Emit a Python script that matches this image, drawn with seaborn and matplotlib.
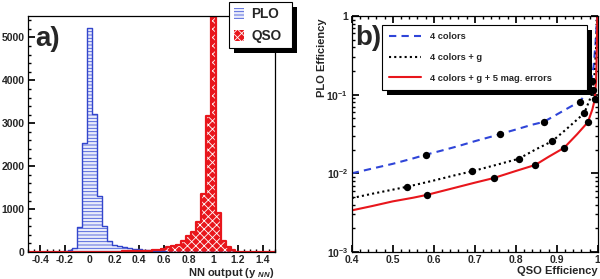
import numpy as np
import pandas as pd
import matplotlib
matplotlib.use("Agg")
import matplotlib.pyplot as plt
import seaborn as sns
from matplotlib.patches import Patch, Rectangle
from matplotlib.lines import Line2D
from matplotlib.transforms import IdentityTransform
from matplotlib.ticker import MultipleLocator, LogLocator, NullFormatter

# ---------------- data: panel a) histogram ----------------
bin_edges = [round(-0.5 + 0.04 * i, 4) for i in range(51)]
bin_centers = [round(e + 0.02, 4) for e in bin_edges[:-1]]

plo_counts = [0, 0, 0, 0, 0, 0, 0, 15, 40, 90,
              572, 2530, 5210, 3220, 1314, 595, 263, 170, 130, 108,
              90, 75, 60, 45, 35, 25, 18, 12, 8, 5,
              3, 0, 0, 0, 0, 0, 0, 0, 0, 0,
              0, 0, 0, 0, 0, 0, 0, 0, 0, 0]
qso_counts = [0, 0, 0, 0, 0, 0, 0, 0, 0, 0,
              0, 0, 0, 0, 3, 5, 6, 8, 10, 12,
              15, 18, 22, 26, 32, 40, 55, 80, 115, 130,
              170, 250, 380, 465, 710, 1345, 3180, 6000, 905, 250,
              115, 40, 10, 0, 0, 0, 0, 0, 0, 0]
hist_labels = ["PLO", "QSO"]
hist_xticks = [-0.4, -0.2, 0, 0.2, 0.4, 0.6, 0.8, 1.0, 1.2, 1.4]
hist_xticklabels = ["-0.4", "-0.2", "0", "0.2", "0.4", "0.6", "0.8", "1", "1.2", "1.4"]
hist_yticks = [0, 1000, 2000, 3000, 4000, 5000]

# ---------------- data: panel b) efficiency curves ----------------
c4_x = [0.40, 0.45, 0.50, 0.55, 0.58, 0.62, 0.66, 0.70, 0.74, 0.761, 0.80, 0.84,
        0.868, 0.90, 0.93, 0.956, 0.97, 0.98, 0.985, 0.99, 0.994, 0.997, 0.999]
c4_y = [0.0100, 0.0115, 0.0132, 0.0155, 0.0172, 0.0195, 0.0222, 0.0256, 0.0292,
        0.0315, 0.0360, 0.0415, 0.0450, 0.0559, 0.0686, 0.0817, 0.100, 0.126,
        0.160, 0.23, 0.40, 0.70, 1.0]
c4g_x = [0.40, 0.45, 0.50, 0.535, 0.60, 0.65, 0.693, 0.75, 0.807, 0.85, 0.889,
         0.92, 0.95, 0.967, 0.98, 0.988, 0.993, 0.997, 0.999]
c4g_y = [0.00484, 0.0055, 0.0062, 0.00675, 0.0081, 0.0094, 0.0106, 0.0127, 0.0153,
         0.0203, 0.0256, 0.0351, 0.0483, 0.058, 0.085, 0.113, 0.2, 0.5, 1.0]
c4ge_x = [0.40, 0.45, 0.50, 0.55, 0.584, 0.65, 0.70, 0.746, 0.80, 0.848, 0.88,
          0.918, 0.95, 0.976, 0.987, 0.993, 0.996, 0.998, 0.999]
c4ge_y = [0.00338, 0.00384, 0.0044, 0.0049, 0.00533, 0.00652, 0.0076, 0.0087,
          0.0107, 0.0128, 0.0162, 0.0211, 0.0315, 0.0447, 0.065, 0.0875, 0.15,
          0.4, 1.0]
mk4_x = [0.580, 0.761, 0.868, 0.956, 0.985]
mk4_y = [0.0172, 0.0315, 0.045, 0.0817, 0.15]
mk4g_x = [0.535, 0.693, 0.807, 0.889, 0.967, 0.988]
mk4g_y = [0.00675, 0.0106, 0.0153, 0.0256, 0.058, 0.113]
mk4ge_x = [0.584, 0.746, 0.848, 0.918, 0.976, 0.993]
mk4ge_y = [0.00533, 0.0087, 0.0128, 0.0211, 0.0447, 0.0875]
curve_labels = ["4 colors", "4 colors + g", "4 colors + g + 5 mag. errors"]
eff_xticks = [0.4, 0.5, 0.6, 0.7, 0.8, 0.9, 1.0]
eff_xticklabels = ["0.4", "0.5", "0.6", "0.7", "0.8", "0.9", "1"]
eff_yticks = [1e-3, 1e-2, 1e-1, 1]
eff_yticklabels = ["$10^{-3}$", "$10^{-2}$", "$10^{-1}$", "1"]

hist_df = pd.DataFrame({"center": bin_centers, "plo": plo_counts, "qso": qso_counts})

# ---------------- style ----------------
sns.set_theme(style="ticks")
plt.rcParams.update({
    "font.family": ["Liberation Sans", "DejaVu Sans"],
    "font.weight": "bold",
    "axes.labelweight": "bold",
    "mathtext.fontset": "custom",
    "mathtext.rm": "Liberation Sans:bold",
    "mathtext.it": "Liberation Sans:italic:bold",
    "mathtext.bf": "Liberation Sans:bold",
    "hatch.linewidth": 0.6,
    "axes.linewidth": 0.9,
    "axes.edgecolor": "black",
})

BLUE_FILL = "#e9ecfa"
BLUE_HATCH = "#4257da"
BLUE_LINE = "#3346cc"
RED = "#e8161c"
CURVE_BLUE = "#2f45d8"

fig = plt.figure(figsize=(6, 2.79), dpi=100)
ax1 = fig.add_axes([28 / 600, 27 / 279, 247 / 600, 236 / 279])
ax2 = fig.add_axes([351.7 / 600, 27 / 279, 246 / 600, 236 / 279])

# ---------------- panel a ----------------
sns.histplot(data=hist_df, x="center", weights="plo", bins=bin_edges, element="bars",
             fill=True, facecolor=BLUE_FILL, edgecolor=BLUE_HATCH, hatch="-----",
             linewidth=0, alpha=1, ax=ax1)
sns.histplot(data=hist_df, x="center", weights="plo", bins=bin_edges, element="step",
             fill=False, color=BLUE_LINE, linewidth=1.0, ax=ax1)
sns.histplot(data=hist_df, x="center", weights="qso", bins=bin_edges, element="bars",
             fill=True, facecolor=RED, edgecolor="white", hatch="xxxx",
             linewidth=0, alpha=1, ax=ax1)
sns.histplot(data=hist_df, x="center", weights="qso", bins=bin_edges, element="step",
             fill=False, color=RED, linewidth=1.6, ax=ax1)

ax1.set_xlim(-0.5, 1.5)
ax1.set_ylim(0, 5500)
ax1.set_xticks(hist_xticks)
ax1.set_xticklabels(hist_xticklabels)
ax1.set_yticks(hist_yticks)
ax1.xaxis.set_minor_locator(MultipleLocator(0.05))
ax1.yaxis.set_minor_locator(MultipleLocator(200))
ax1.tick_params(which="both", direction="in", top=False, right=False,
                labelsize=7.5, pad=2.5, color="black")
ax1.tick_params(which="major", length=5)
ax1.tick_params(which="minor", length=2.5)
ax1.set_ylabel("")
ax1.set_xlabel(r"NN output (y $_{NN}$)", loc="right", fontsize=8, labelpad=0.5)
for s in ax1.spines.values():
    s.set_visible(True)

leg1 = ax1.legend(
    handles=[Patch(facecolor=BLUE_FILL, edgecolor=BLUE_HATCH, hatch="-----", linewidth=0),
             Patch(facecolor=RED, edgecolor="white", hatch="xxxx", linewidth=0)],
    labels=hist_labels, loc="upper left",
    bbox_to_anchor=(229 / 600, 1 - 45 / 279, 63 / 600, 43 / 279),
    bbox_transform=fig.transFigure, mode="expand", borderaxespad=0,
    fontsize=9.8, frameon=True, fancybox=False, framealpha=1, edgecolor="black",
    handlelength=0.7, handleheight=0.85, handletextpad=0.55, labelspacing=0.55,
    borderpad=0.4)
leg1.get_frame().set_linewidth(0.8)
for t in leg1.get_texts():
    t.set_fontweight("bold")

# ---------------- panel b ----------------
ax2.set_yscale("log")
sns.lineplot(x=c4_x, y=c4_y, sort=False, estimator=None, color=CURVE_BLUE,
             linestyle=(0, (3.5, 2.5)), linewidth=1.5, ax=ax2)
sns.lineplot(x=c4g_x, y=c4g_y, sort=False, estimator=None, color="black",
             linestyle=(0, (1, 1.5)), linewidth=1.5, ax=ax2)
sns.lineplot(x=c4ge_x, y=c4ge_y, sort=False, estimator=None, color=RED,
             linestyle="-", linewidth=1.5, ax=ax2)
for mx, my in [(mk4_x, mk4_y), (mk4g_x, mk4g_y), (mk4ge_x, mk4ge_y)]:
    sns.scatterplot(x=mx, y=my, color="black", s=28, linewidth=0, zorder=4, ax=ax2)

ax2.set_xlim(0.4, 1.0)
ax2.set_ylim(1e-3, 1)
ax2.set_xticks(eff_xticks)
ax2.set_xticklabels(eff_xticklabels)
ax2.xaxis.set_minor_locator(MultipleLocator(0.02))
ax2.set_yticks(eff_yticks)
ax2.set_yticklabels(eff_yticklabels)
ax2.yaxis.set_minor_locator(LogLocator(base=10, subs=np.arange(2, 10)))
ax2.yaxis.set_minor_formatter(NullFormatter())
ax2.tick_params(which="both", direction="in", top=True, right=True,
                labelsize=7.5, pad=2.5, color="black")
ax2.tick_params(which="major", length=5)
ax2.tick_params(which="minor", length=2.5)
ax2.set_xlabel("QSO Efficiency", loc="right", fontsize=8, labelpad=0.5)
ax2.set_ylabel("PLO Efficiency", loc="top", fontsize=8)
ax2.yaxis.set_label_coords(-0.1, 0.99)
for s in ax2.spines.values():
    s.set_visible(True)

leg2 = ax2.legend(
    handles=[Line2D([], [], color=CURVE_BLUE, linestyle=(0, (3.5, 2.5)), linewidth=1.5),
             Line2D([], [], color="black", linestyle=(0, (1, 1.5)), linewidth=1.5),
             Line2D([], [], color=RED, linestyle="-", linewidth=1.5)],
    labels=curve_labels, loc="upper left",
    bbox_to_anchor=(381.7 / 600, 1 - 90 / 279, 205 / 600, 65 / 279),
    bbox_transform=fig.transFigure, mode="expand", borderaxespad=0,
    fontsize=6.7, frameon=True, fancybox=False, framealpha=1, edgecolor="black",
    handlelength=3.4, handletextpad=1.0, labelspacing=1.25, borderpad=0.8)
leg2.get_frame().set_linewidth(0.8)
for t in leg2.get_texts():
    t.set_fontweight("bold")

# panel tags
fig.text(35 / 600, 1 - 39 / 279, "a)", fontsize=20, fontweight="bold", va="center", ha="left")
fig.text(355 / 600, 1 - 38 / 279, "b)", fontsize=20, fontweight="bold", va="center", ha="left")

# black drop shadows behind legends
fig.canvas.draw()
for leg, ax in [(leg1, ax1), (leg2, ax2)]:
    bb = leg.get_window_extent()
    ax.add_artist(Rectangle((bb.x0 + 5, bb.y0 - 5), bb.width, bb.height,
                            transform=IdentityTransform(), facecolor="black",
                            edgecolor="none", zorder=4.9, clip_on=False))

fig.savefig("out.png", dpi=100, facecolor="white")
